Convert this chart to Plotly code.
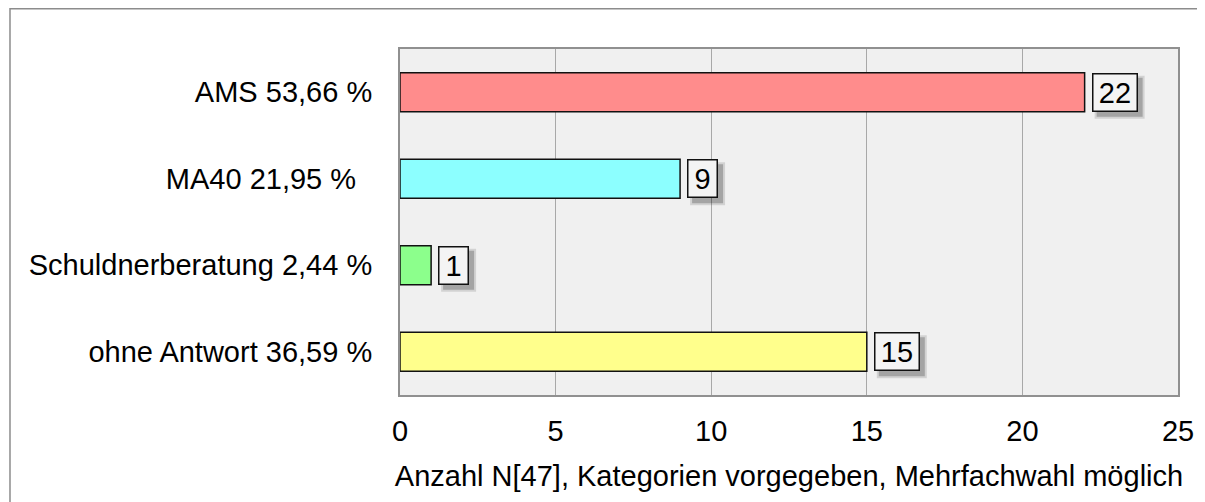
import plotly.graph_objects as go

categories = ["AMS 53,66 %", "MA40 21,95 %\u00a0\u00a0", "Schuldnerberatung 2,44 %", "ohne Antwort 36,59 %"]
counts = [22, 9, 1, 15]
colors = ["#FF8C8C", "#8CFFFF", "#8CFF8C", "#FFFF8C"]
x_ticks = [0, 5, 10, 15, 20, 25]
x_title = "Anzahl N[47], Kategorien vorgegeben, Mehrfachwahl möglich"

font = "Liberation Sans, Arial, sans-serif"
fsize = 29

fig = go.Figure()
fig.add_trace(go.Bar(
    y=categories, x=counts, orientation="h",
    marker=dict(color=colors, line=dict(color="#111111", width=1.5)),
    width=0.45, showlegend=False, hoverinfo="x+y",
))

# value boxes, shadow drawn as pixel-sized shapes behind them
for i, (cat, val) in enumerate(zip(categories, counts)):
    w = 26 if val < 10 else 41
    full = w + 5
    for grow, alpha in [(2, 0.12), (0, 0.22)]:
        fig.add_shape(
            type="rect", xref="x", yref="y",
            xsizemode="pixel", xanchor=val, x0=12 - grow, x1=12 + full + grow,
            ysizemode="pixel", yanchor=i, y0=-24.5 - grow, y1=14.5 + grow,
            fillcolor=f"rgba(0,0,0,{alpha})", line=dict(width=0),
        )
    fig.add_annotation(
        x=val, y=cat, text=str(val), showarrow=False, xanchor="left",
        xshift=7, width=w, height=34,
        font=dict(size=fsize, color="black", family=font),
        bgcolor="#F4F4F4", bordercolor="#111111", borderwidth=1.5, borderpad=1,
    )

# outer frame
fig.add_shape(type="rect", xref="paper", yref="paper",
              x0=-0.5013, x1=1.0334, y0=-0.4, y1=1.1163,
              line=dict(color="#8C8C8C", width=1.5), layer="below")

fig.update_layout(
    width=1197, height=494,
    margin=dict(l=392, r=27, t=41, b=107),
    paper_bgcolor="white", plot_bgcolor="#F0F0F0",
    font=dict(family=font, size=fsize, color="black"),
    bargap=0.55,
)
fig.update_xaxes(
    range=[0, 25], tickvals=x_ticks, showgrid=True, gridcolor="#A8A8A8", gridwidth=1,
    zeroline=False, showline=True, linecolor="#909090", linewidth=2, mirror=True,
    ticks="", ticklabelstandoff=9, tickfont=dict(size=fsize),
    title=dict(text=x_title, font=dict(size=fsize), standoff=20),
)
fig.update_yaxes(
    autorange="reversed", showgrid=False, showline=True, linecolor="#909090",
    linewidth=2, mirror=True, ticks="", ticklabelstandoff=20, tickfont=dict(size=fsize),
)

fig.write_html("out.html")
